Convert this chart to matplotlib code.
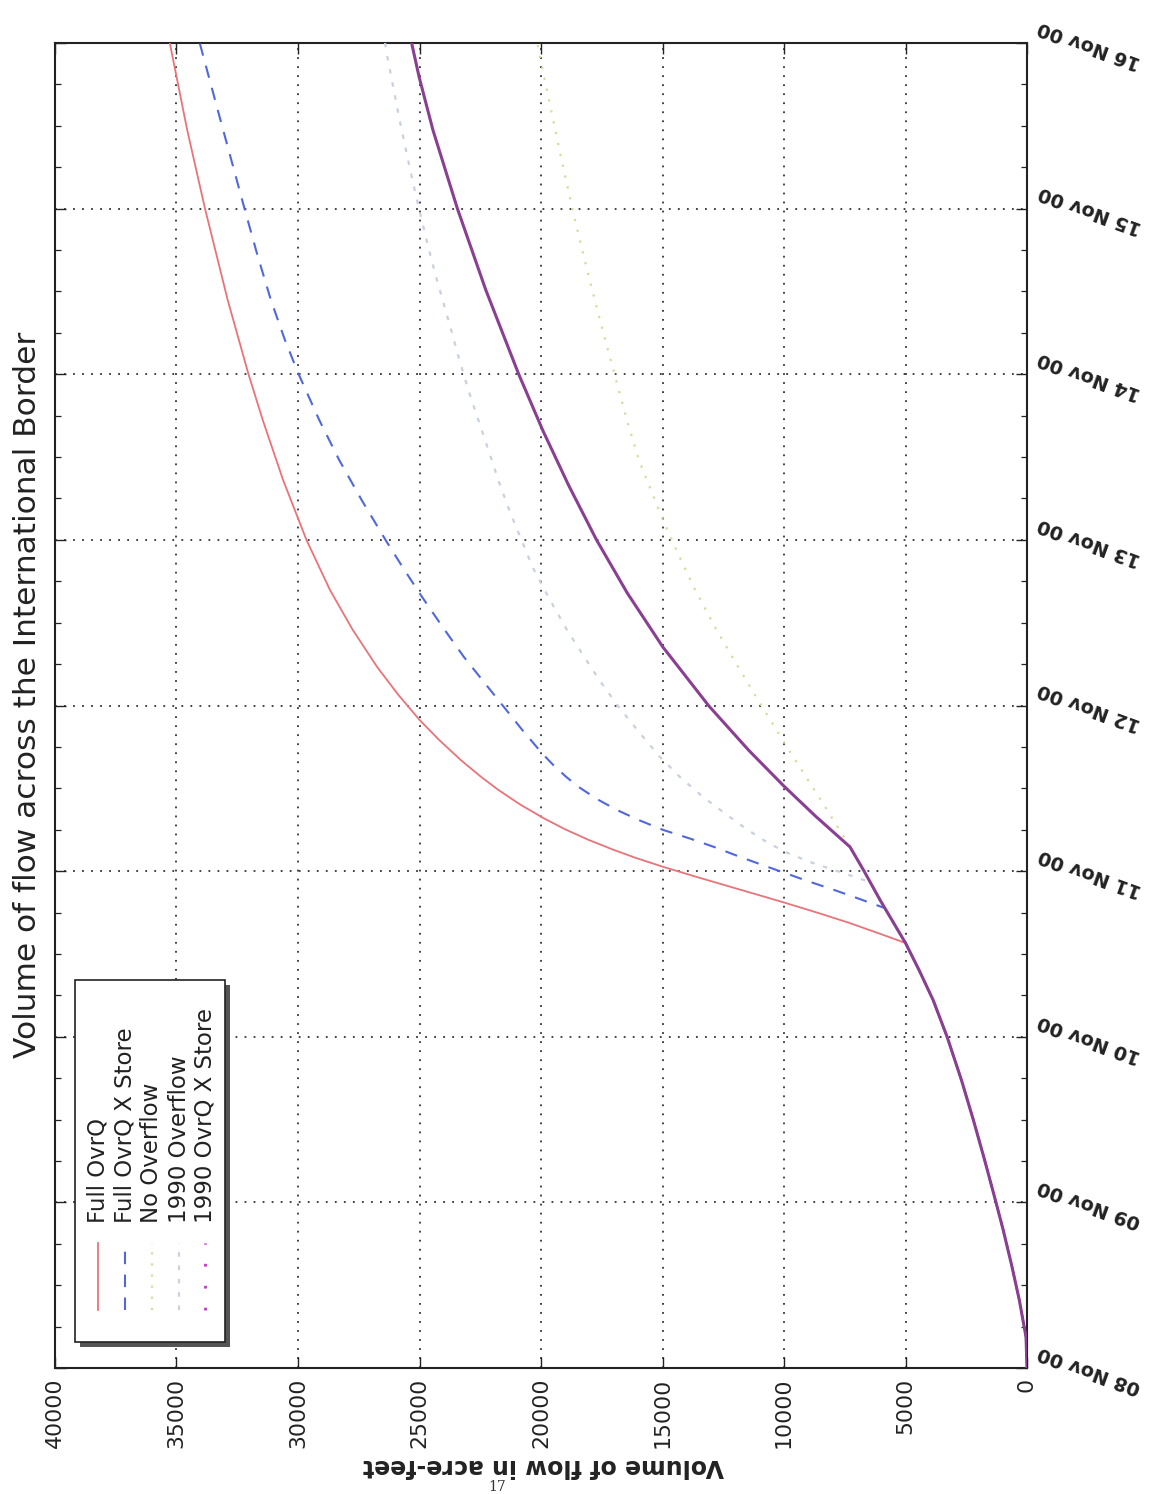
import datetime
import numpy as np
import matplotlib
matplotlib.use("Agg")
import matplotlib.pyplot as plt
import matplotlib.dates as mdates
from matplotlib.patches import Rectangle
from matplotlib.transforms import blended_transform_factory, offset_copy

# ---------------- data (days after 08 Nov 2000 00:00, volume in acre-feet) ----------------
shared_days = [0.0, 0.187, 0.411, 0.622, 0.833, 1.002, 1.256, 1.497, 1.739, 1.998, 2.222, 2.403, 2.566]
shared_vol = [0, 41, 317, 634, 979, 1280, 1745, 2206, 2699, 3284, 3864, 4444, 5000]

full_days = [2.566, 2.626, 2.687, 2.747, 2.814, 2.886, 2.965, 3.025, 3.079, 3.128, 3.188, 3.254,
             3.321, 3.405, 3.490, 3.569, 3.671, 3.792, 3.912, 4.063, 4.232, 4.456, 4.697, 4.999,
             5.361, 5.724, 6.002, 6.448, 7.000, 7.475, 8.000]
full_vol = [5000, 6132, 7305, 8580, 10074, 11753, 13597, 14955, 16082, 17004, 18033, 19029,
            19909, 20889, 21753, 22465, 23304, 24193, 24992, 25864, 26741, 27745, 28683, 29650,
            30613, 31452, 32041, 32893, 33827, 34560, 35276]

store_days = [2.566, 2.777, 2.832, 2.886, 2.937, 2.985, 3.039, 3.088, 3.146, 3.195, 3.249, 3.309,
              3.369, 3.436, 3.508, 3.569, 3.641, 3.713, 3.852, 3.997, 4.154, 4.293, 4.486, 4.679,
              4.830, 4.987, 5.241, 5.482, 5.724, 6.002, 6.207, 6.448, 6.720, 7.000, 7.505, 8.000]
store_vol = [5000, 5856, 6893, 7930, 8967, 9889, 10926, 11848, 12881, 13835, 14979, 15988,
             16872, 17708, 18449, 18963, 19498, 19967, 20769, 21560, 22416, 23173, 24107, 25004,
             25671, 26346, 27383, 28304, 29127, 29979, 30539, 31115, 31671, 32201, 33136, 34045]

x1990_days = [2.566, 2.826, 3.001, 3.146, 3.333, 3.514, 3.731, 3.997, 4.353, 4.679, 4.999, 5.331,
              5.657, 6.002, 6.509, 7.000, 7.475, 7.795, 8.000]
x1990_vol = [5000, 6049, 6708, 7284, 8712, 10008, 11461, 13090, 14984, 16449, 17712, 18868,
             19914, 20922, 22272, 23440, 24448, 25016, 25325]

noover_days = [3.146, 3.429, 3.713, 4.033, 4.257, 4.474, 4.697, 4.897, 5.120, 5.482, 5.724, 5.983,
               6.267, 6.527, 6.750, 6.992, 7.263, 7.535, 7.819, 8.000]
noover_vol = [7284, 8481, 9720, 11070, 11983, 12844, 13650, 14300, 14983, 15971, 16465, 16942,
              17465, 17926, 18304, 18699, 19107, 19498, 19905, 20152]

over1990_days = [2.934, 2.995, 3.055, 3.116, 3.182, 3.260, 3.339, 3.448, 3.568, 3.689, 3.840, 3.997,
                 4.148, 4.305, 4.456, 4.637, 4.830, 5.168, 5.349, 5.531, 5.712, 5.893, 6.074, 6.249,
                 6.611, 6.798, 7.155, 7.523, 7.897, 8.000]
over1990_vol = [6461, 7695, 8930, 9959, 10782, 11605, 12346, 13333, 14280, 15103, 15967, 16831,
                17572, 18271, 18930, 19630, 20329, 21276, 21728, 22140, 22551, 22963, 23333, 23662,
                24362, 24691, 25267, 25802, 26296, 26420]

date_labels = ["08 Nov 00", "09 Nov 00", "10 Nov 00", "11 Nov 00", "12 Nov 00",
               "13 Nov 00", "14 Nov 00", "15 Nov 00", "16 Nov 00"]
vol_ticks = [0, 5000, 10000, 15000, 20000, 25000, 30000, 35000, 40000]
legend_labels = ["Full OvrQ", "Full OvrQ X Store", "No Overflow", "1990 Overflow", "1990 OvrQ X Store"]

# ---------------- figure ----------------
W, H = 1165, 1494
fig = plt.figure(figsize=(W / 100, H / 100), dpi=100)
ax = fig.add_axes([55 / W, 126 / H, 972 / W, 1325 / H])

base = mdates.date2num(datetime.datetime(2000, 11, 8))


def dn(days):
    return base + np.asarray(days, dtype=float)


def branch(days, vol):
    # every series follows the common early part of the curve, then branches off
    k = int(np.searchsorted(shared_days, days[0]))
    return (np.concatenate([shared_vol[:k], vol]),
            np.concatenate([dn(shared_days[:k]), dn(days)]))


c_red = "#e8747a"
c_blue = "#5068dc"
c_yel = "#dcd89c"
c_grey = "#c8d2de"
c_purp = "#8a3f92"
c_mag = "#c03cc0"

v, d = branch(noover_days, noover_vol)
ax.plot(v, d, color=c_yel, lw=1.6, ls=(0, (1, 4)), zorder=3)
v, d = branch(over1990_days, over1990_vol)
ax.plot(v, d, color=c_grey, lw=1.6, ls=(0, (2, 4)), zorder=3)
v, d = branch(store_days, store_vol)
ax.plot(v, d, color=c_blue, lw=1.5, ls=(0, (6, 5)), zorder=4)
v, d = branch(full_days, full_vol)
ax.plot(v, d, color=c_red, lw=1.3, zorder=5, solid_joinstyle="round")
v, d = branch(x1990_days, x1990_vol)
ax.plot(v, d, color=c_purp, lw=2.2, zorder=6, solid_capstyle="round", solid_joinstyle="round")

ax.set_xlim(40000, 0)
ax.set_ylim(base, base + 8)
ax.set_xticks(vol_ticks)
ax.set_xticklabels([str(t) for t in vol_ticks], rotation=90, fontsize=15.8)
ax.yaxis.set_major_locator(mdates.DayLocator())
ax.yaxis.set_minor_locator(mdates.HourLocator(byhour=[0, 6, 12, 18]))
ax.tick_params(axis="both", which="both", direction="in", top=True, right=True,
               left=True, bottom=True, labelleft=False, labelright=False, colors="#222222")
ax.tick_params(which="major", length=8, width=1.0)
ax.tick_params(which="minor", length=4, width=0.9)
ax.tick_params(axis="x", pad=7)
for s in ax.spines.values():
    s.set_linewidth(1.5)
    s.set_color("#222222")
ax.grid(True, which="major", ls=(0, (1, 4)), lw=1.3, color="#333333")

# date labels on right, upside-down
trans = blended_transform_factory(ax.transAxes, ax.transData)
trans = offset_copy(trans, fig=fig, x=12, y=17, units="dots")
for i, lab in enumerate(date_labels):
    ax.text(1.0, base + i, lab, transform=trans, rotation=160, rotation_mode="anchor",
            ha="right", va="center", fontsize=13.8, fontweight="bold", color="#222222",
            clip_on=False)

# ---------------- overlay in pixel coords ----------------
ov = fig.add_axes([0, 0, 1, 1], zorder=10)
ov.set_xlim(0, W)
ov.set_ylim(H, 0)
ov.axis("off")
ov.patch.set_alpha(0)

ov.text(28, 695, "Volume of flow across the International Border", rotation=90,
        ha="center", va="center", fontsize=22.5, color="#222222")
ov.text(543, 1466, "Volume of flow in acre-feet", rotation=180, ha="center", va="center",
        fontsize=17, fontweight="bold", color="#222222")
ov.text(497, 1487, "17", ha="center", va="center", fontsize=10, family="DejaVu Serif",
        color="#333333")

# legend
ov.add_patch(Rectangle((80, 985), 150, 362, facecolor="#555555", edgecolor="none", zorder=1))
ov.add_patch(Rectangle((75, 980), 150, 362, facecolor="white", edgecolor="#222222", lw=1.2, zorder=2))
lx = [98, 125, 152, 179, 205]
styles = [dict(color=c_red, lw=1.3, ls="-"),
          dict(color=c_blue, lw=1.5, ls=(0, (6, 5))),
          dict(color=c_yel, lw=1.6, ls=(0, (1, 4))),
          dict(color=c_grey, lw=1.6, ls=(0, (2, 4))),
          dict(color=c_mag, lw=2.0, ls=(0, (1, 6.9)))]
for x, lab, st in zip(lx, legend_labels, styles):
    ov.plot([x, x], [1310, 1243], zorder=3, **st)
    ov.text(x, 1223, lab, rotation=90, ha="center", va="bottom", fontsize=16.5,
            color="#222222", zorder=3)

fig.savefig("out.png", dpi=100)
